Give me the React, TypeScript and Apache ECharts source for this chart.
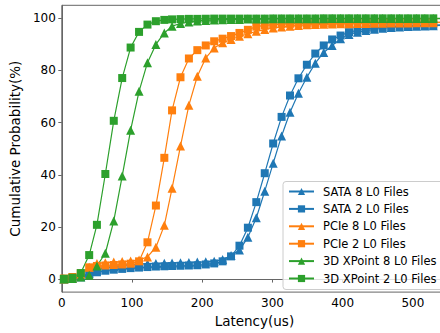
import React, { useEffect, useRef } from "react";
import * as echarts from "echarts";

const latency = [3, 15, 27, 39, 50, 62, 74, 86, 98, 110, 122, 134, 146, 157, 169, 181, 193, 205, 217, 229, 241, 253, 265, 277, 289, 301, 313, 325, 337, 349, 361, 373, 385, 397, 409, 421, 433, 445, 457, 469, 481, 493, 505, 517, 529, 541];

const sata8 = [0, 0.2, 0.9, 2.3, 3.5, 4.3, 4.8, 5.2, 5.5, 5.7, 5.9, 6.0, 6.1, 6.2, 6.3, 6.4, 6.5, 6.6, 6.8, 7.5, 9.0, 11.1, 16.0, 23.5, 33.7, 44.4, 54.9, 64, 71.3, 77.4, 82.8, 86.9, 89.6, 92.2, 93.8, 94.7, 95.3, 95.8, 96.2, 96.5, 96.7, 96.9, 97.0, 97.1, 97.2, 97.3];
const sata2 = [0, 0.2, 0.7, 1.8, 2.6, 3.2, 3.6, 3.9, 4.2, 4.4, 4.6, 4.8, 4.9, 5.0, 5.1, 5.2, 5.3, 5.6, 6.0, 6.8, 8.7, 12.8, 19.7, 29.5, 40.6, 52, 62.2, 70.4, 77, 82.2, 86.5, 89.6, 91.9, 93.4, 94.7, 95.4, 95.9, 96.3, 96.6, 96.8, 97.0, 97.1, 97.2, 97.3, 97.4, 97.5];
const pcie8 = [0, 0.4, 1.8, 4.5, 6.0, 6.3, 6.5, 6.7, 6.9, 7.3, 8.5, 12.2, 20.6, 34.8, 51, 66.7, 77.8, 84.8, 88.6, 90.6, 91.9, 93.1, 94.1, 95.0, 95.7, 96.3, 96.7, 97.0, 97.3, 97.5, 97.6, 97.7, 97.8, 97.9, 97.9, 98.0, 98.0, 98.1, 98.1, 98.2, 98.2, 98.2, 98.3, 98.3, 98.3, 98.4];
const pcie2 = [0.2, 0.8, 2.2, 4.5, 5.0, 5.2, 5.4, 5.6, 5.9, 6.8, 14.1, 28.2, 46.5, 64.7, 77.4, 84.6, 87.8, 89.6, 91.2, 92.2, 93.2, 94.4, 95.6, 96.8, 97.3, 97.6, 97.8, 97.9, 98.0, 98.0, 98.1, 98.1, 98.2, 98.2, 98.2, 98.3, 98.3, 98.3, 98.4, 98.4, 98.4, 98.5, 98.5, 98.5, 98.5, 98.6];
const xp8 = [0, 0.2, 0.8, 1.5, 5.0, 9.9, 22.3, 39.5, 57.1, 72, 83, 90, 94.4, 97, 98, 98.6, 99, 99.2, 99.4, 99.5, 99.6, 99.6, 99.7, 99.7, 99.7, 99.8, 99.8, 99.8, 99.8, 99.8, 99.8, 99.8, 99.9, 99.9, 99.9, 99.9, 99.9, 99.9, 99.9, 99.9, 99.9, 99.9, 99.9, 99.9, 99.9, 99.9];
const xp2 = [0.1, 0.5, 2.3, 9.2, 20.8, 40.3, 60.7, 77.1, 88.8, 94.8, 97.6, 98.9, 99.4, 99.6, 99.7, 99.8, 99.8, 99.85, 99.9, 99.9, 99.9, 99.9, 99.9, 99.9, 99.9, 99.95, 99.95, 99.95, 99.95, 99.95, 99.95, 100, 100, 100, 100, 100, 100, 100, 100, 100, 100, 100, 100, 100, 100, 100];

const seriesNames = ["SATA 8 L0 Files", "SATA 2 L0 Files", "PCIe 8 L0 Files", "PCIe 2 L0 Files", "3D XPoint 8 L0 Files", "3D XPoint 2 L0 Files"];
const seriesValues = [sata8, sata2, pcie8, pcie2, xp8, xp2];
const seriesColors = ["#1f77b4", "#1f77b4", "#ff7f0e", "#ff7f0e", "#2ca02c", "#2ca02c"];
const seriesSymbols = ["triangle", "rect", "triangle", "rect", "triangle", "rect"];

const xTicks = [0, 100, 200, 300, 400, 500];
const yTicks = [0, 20, 40, 60, 80, 100];

const FONT = "DejaVu Sans";
const SPINE = "#666666";

export default function App() {
  const ref = useRef<HTMLDivElement>(null);
  useEffect(() => {
    if (!ref.current) return;
    const chart = echarts.init(ref.current, null, { renderer: "svg" });
    chart.setOption({
      animation: false,
      backgroundColor: "#ffffff",
      grid: {
        left: 59.5,
        right: 19,
        top: 5.3,
        bottom: 37.8,
        show: true,
        borderColor: SPINE,
        borderWidth: 1,
        backgroundColor: "transparent",
      },
      xAxis: {
        type: "value",
        min: 0,
        max: 540,
        name: "Latency(us)",
        nameLocation: "middle",
        nameGap: 13,
        nameTextStyle: { fontFamily: FONT, fontSize: 13.5, color: "#000", padding: [0, 0, 0, 6] },
        axisLine: { show: true, lineStyle: { color: SPINE, width: 1 } },
        axisTick: { show: true, length: 3.5, inside: false, customValues: xTicks, lineStyle: { color: SPINE } },
        axisLabel: { customValues: xTicks, fontFamily: FONT, fontSize: 12, color: "#000", margin: 5 },
        splitLine: { show: false },
      },
      yAxis: {
        type: "value",
        min: -5,
        max: 105,
        name: "Cumulative Probability(%)",
        nameLocation: "middle",
        nameGap: 26,
        nameTextStyle: { fontFamily: FONT, fontSize: 13.5, color: "#000" },
        axisLine: { show: true, lineStyle: { color: SPINE, width: 1 } },
        axisTick: { show: true, length: 3.5, inside: false, customValues: yTicks, lineStyle: { color: SPINE } },
        axisLabel: { customValues: yTicks, fontFamily: FONT, fontSize: 12, color: "#000", margin: 6 },
        splitLine: { show: false },
      },
      legend: {
        orient: "vertical",
        left: 283,
        top: 181.5,
        padding: [4, 8, 5, 5],
        itemWidth: 25,
        itemHeight: 9,
        itemGap: 5.4,
        borderColor: "#cccccc",
        borderWidth: 1,
        borderRadius: 3,
        backgroundColor: "rgba(255,255,255,0.8)",
        textStyle: { fontFamily: FONT, fontSize: 11.5, lineHeight: 12, color: "#000", padding: [0, 0, 0, 4] },
        data: seriesNames,
      },
      series: seriesNames.map((name, k) => ({
        type: "line",
        name,
        data: latency.map((x, i) => [x, seriesValues[k][i]]),
        symbol: seriesSymbols[k],
        symbolSize: seriesSymbols[k] === "rect" ? 8 : 9,
        showSymbol: true,
        showAllSymbol: true,
        clip: true,
        lineStyle: { color: seriesColors[k], width: 1.2 },
        itemStyle: { color: seriesColors[k], borderWidth: 0 },
        emphasis: { disabled: true },
      })),
    });
    return () => chart.dispose();
  }, []);
  return (
    <div
      ref={ref}
      style={{ position: "fixed", left: 0, top: 0, width: 460, height: 333, background: "#fff" }}
    />
  );
}
